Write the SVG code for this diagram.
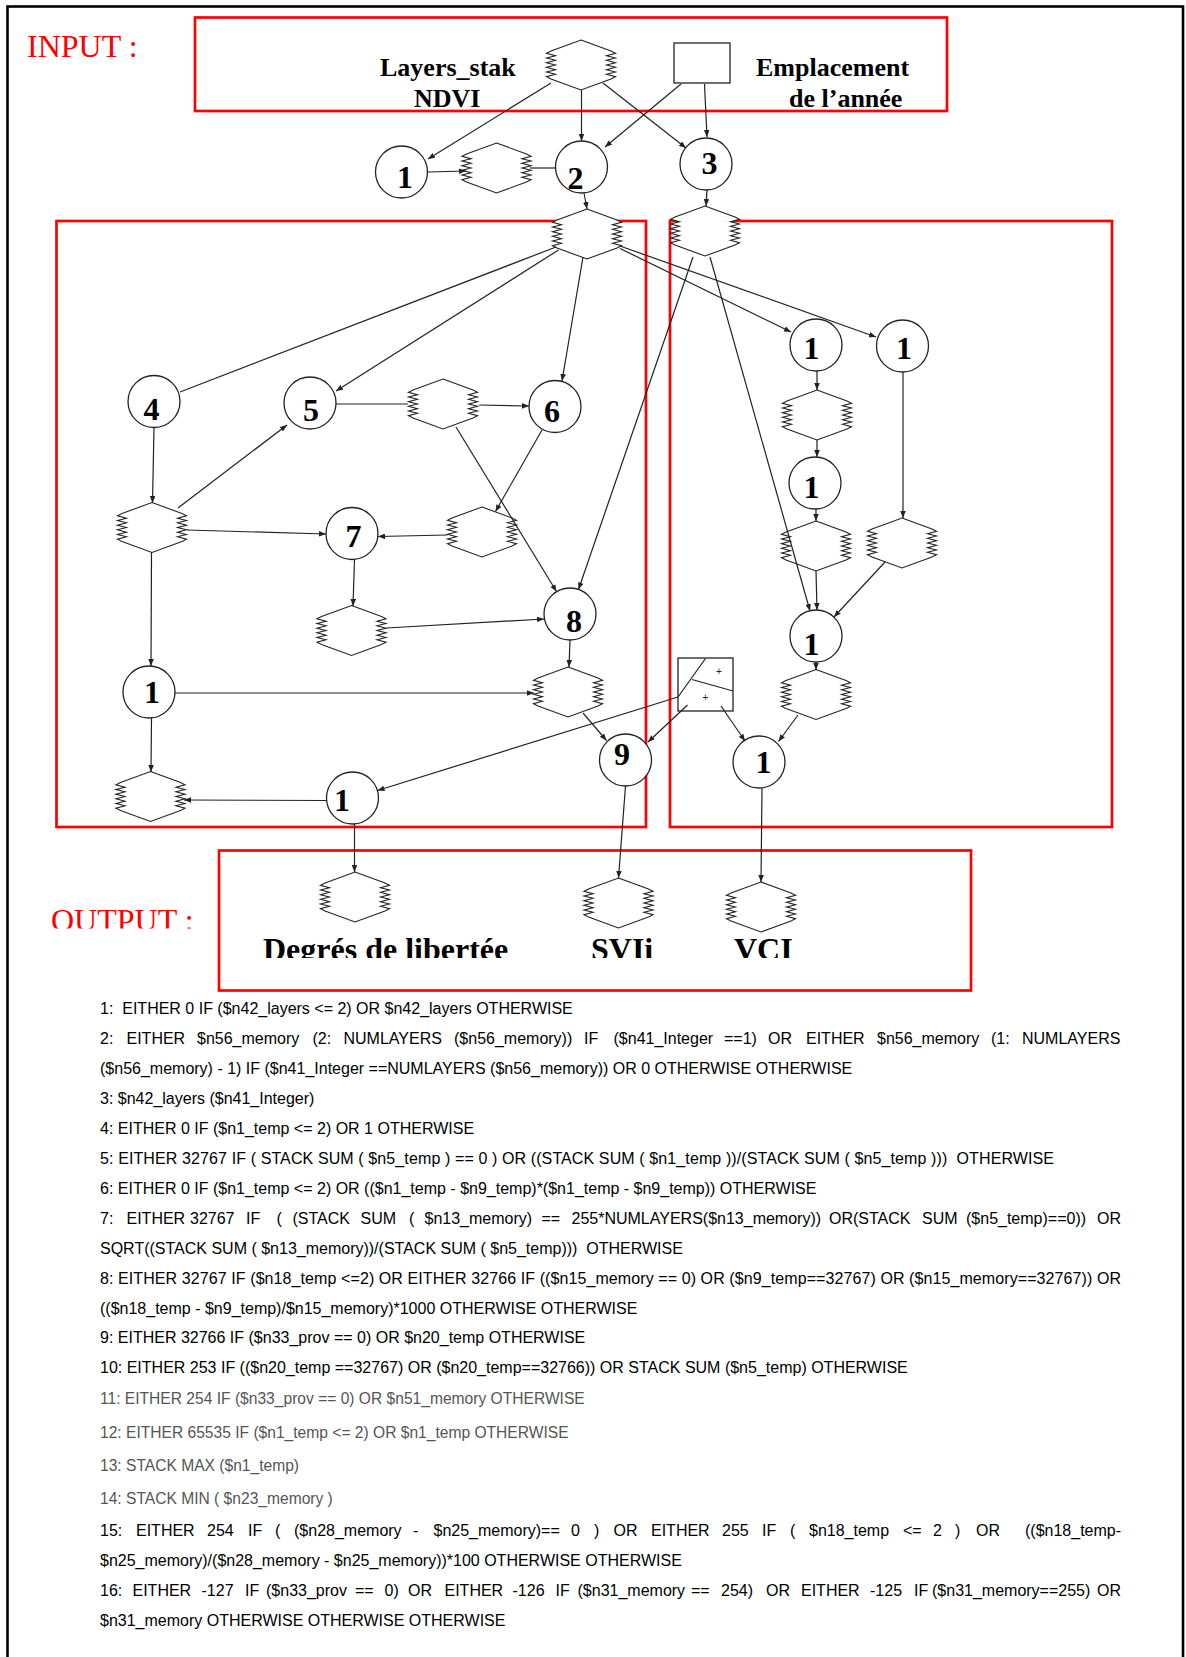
<svg xmlns="http://www.w3.org/2000/svg" xmlns:xlink="http://www.w3.org/1999/xlink" width="1186" height="1657" viewBox="0 0 1186 1657">
<style>
.frame{fill:none;stroke:#000;stroke-width:2.6}
.box{fill:none;stroke:#ff0000;stroke-width:2.7}
.edge{stroke:#222;stroke-width:1.2;fill:none}
.arr{marker-end:url(#arr)}
.hex{fill:#fff;stroke:#222;stroke-width:1.1}
.circ{fill:#fff;stroke:#222;stroke-width:1.3}
.num{font-family:"Liberation Serif","Times New Roman",serif;font-weight:bold;font-size:32px;text-anchor:middle;fill:#000}
.lbl{font-family:"Liberation Serif","Times New Roman",serif;font-weight:bold;font-size:26px;fill:#000}
.out{font-family:"Liberation Serif","Times New Roman",serif;font-weight:bold;font-size:32px;fill:#000}
.red{font-family:"Liberation Serif","Times New Roman",serif;font-size:32px;fill:#ff0000}
.code{font-family:"Liberation Sans",Arial,sans-serif;font-size:16px;fill:#000;white-space:pre}
.gray{fill:#555;font-size:15.6px}
.plus{font-family:"Liberation Sans",Arial,sans-serif;font-size:10px;text-anchor:middle;fill:#222}
</style>
<defs>
<marker id="arr" viewBox="0 0 10 8" refX="10" refY="4" markerWidth="7" markerHeight="5.6" markerUnits="userSpaceOnUse" orient="auto"><path d="M0,0 L10,4 L0,8 Z" fill="#222"/></marker>
<path id="hex" d="M0,-25 L30,-14 L34.5,-11.67 L25.5,-9.33 L34.5,-7 L25.5,-4.67 L34.5,-2.33 L25.5,0 L34.5,2.33 L25.5,4.67 L34.5,7 L25.5,9.33 L34.5,11.67 L30,14 L0,25 L-30,14 L-34.5,11.67 L-25.5,9.33 L-34.5,7 L-25.5,4.67 L-34.5,2.33 L-25.5,0 L-34.5,-2.33 L-25.5,-4.67 L-34.5,-7 L-25.5,-9.33 L-34.5,-11.67 L-30,-14 Z"/>
<clipPath id="clipOut"><rect x="0" y="0" width="1186" height="928.5"/></clipPath>
<clipPath id="clipLbl"><rect x="0" y="0" width="1186" height="958"/></clipPath>
</defs>
<rect width="1186" height="1657" fill="#fff"/>
<rect class="frame" x="7.5" y="6.5" width="1175.5" height="1700"/>

<g id="frames">
<rect class="box" x="195" y="17.5" width="752" height="93.5"/>
<rect class="box" x="56.5" y="221" width="589.5" height="606"/>
<rect class="box" x="670" y="221" width="442" height="606"/>
<rect class="box" x="219" y="850.5" width="752" height="140"/>
<text class="red" x="27" y="57">INPUT :</text>
<text class="red" x="51" y="931" clip-path="url(#clipOut)">OUTPUT :</text>
</g>

<g id="nodes">
<g id="n-layers"><use href="#hex" x="581" y="65" class="hex"/><text class="lbl" x="380" y="76">Layers_stak</text><text class="lbl" x="414" y="107">NDVI</text></g>
<g id="n-emplacement"><rect x="674" y="43" width="56" height="40" fill="#fff" stroke="#222" stroke-width="1.3"/><text class="lbl" x="756" y="76">Emplacement</text><text class="lbl" x="789" y="107">de l’année</text></g>
<g id="n-c1a"><circle class="circ" cx="401.5" cy="172" r="26"/><text class="num" x="405" y="188">1</text></g>
<g id="n-h1"><use href="#hex" x="496.5" y="168" class="hex"/></g>
<g id="n-c2"><circle class="circ" cx="581.5" cy="167" r="26"/><text class="num" x="575.5" y="189">2</text></g>
<g id="n-c3"><circle class="circ" cx="706" cy="164" r="26"/><text class="num" x="709.5" y="174">3</text></g>
<g id="n-h2"><use href="#hex" x="587" y="234" class="hex"/></g>
<g id="n-h3"><use href="#hex" x="705" y="231" class="hex"/></g>
<g id="n-c4"><circle class="circ" cx="154" cy="401.5" r="26"/><text class="num" x="151.5" y="420">4</text></g>
<g id="n-c5"><circle class="circ" cx="310" cy="403" r="26"/><text class="num" x="311" y="421">5</text></g>
<g id="n-h56"><use href="#hex" x="443" y="404" class="hex"/></g>
<g id="n-c6"><circle class="circ" cx="555" cy="406.5" r="26"/><text class="num" x="552" y="422">6</text></g>
<g id="n-h4"><use href="#hex" x="152" y="527.5" class="hex"/></g>
<g id="n-c7"><circle class="circ" cx="352" cy="533.5" r="26"/><text class="num" x="353.5" y="547">7</text></g>
<g id="n-h7r"><use href="#hex" x="482" y="532" class="hex"/></g>
<g id="n-h7b"><use href="#hex" x="351.5" y="630.5" class="hex"/></g>
<g id="n-c8"><circle class="circ" cx="570" cy="614" r="26"/><text class="num" x="574" y="632">8</text></g>
<g id="n-c1c"><circle class="circ" cx="149" cy="692" r="26"/><text class="num" x="152" y="703">1</text></g>
<g id="n-h8b"><use href="#hex" x="568" y="692" class="hex"/></g>
<g id="n-c9"><circle class="circ" cx="625.5" cy="760" r="26"/><text class="num" x="622" y="765">9</text></g>
<g id="n-hbl"><use href="#hex" x="150.5" y="796.5" class="hex"/></g>
<g id="n-c1d"><circle class="circ" cx="352.5" cy="798" r="26"/><text class="num" x="342" y="811">1</text></g>
<g id="n-c1e"><circle class="circ" cx="816" cy="345" r="26"/><text class="num" x="811.5" y="359">1</text></g>
<g id="n-c1f"><circle class="circ" cx="902.5" cy="346" r="26"/><text class="num" x="904" y="359">1</text></g>
<g id="n-hr1"><use href="#hex" x="817" y="415" class="hex"/></g>
<g id="n-c1g"><circle class="circ" cx="815" cy="483" r="26"/><text class="num" x="811.5" y="498">1</text></g>
<g id="n-hr2"><use href="#hex" x="816" y="546" class="hex"/></g>
<g id="n-hr3"><use href="#hex" x="902" y="543" class="hex"/></g>
<g id="n-c1h"><circle class="circ" cx="816" cy="636" r="26"/><text class="num" x="811.5" y="655">1</text></g>
<g id="n-hr4"><use href="#hex" x="816" y="694.5" class="hex"/></g>
<g id="n-sq"><rect x="678" y="658" width="55" height="53" fill="#fff" stroke="#222" stroke-width="1.3"/><path class="edge" d="M678,697 L705.5,658.5 M692,679.5 L733,691"/><text class="plus" x="719" y="675">+</text><text class="plus" x="705.5" y="701">+</text></g>
<g id="n-c1i"><circle class="circ" cx="759" cy="762" r="26"/><text class="num" x="763.5" y="773">1</text></g>
<g id="n-out-deg"><use href="#hex" x="355" y="897" class="hex"/><text class="out" x="263" y="960" clip-path="url(#clipLbl)">Degrés de libertée</text></g>
<g id="n-out-svi"><use href="#hex" x="618.5" y="903" class="hex"/><text class="out" x="591" y="960" clip-path="url(#clipLbl)">SVIi</text></g>
<g id="n-out-vci"><use href="#hex" x="761" y="907" class="hex"/><text class="out" x="734" y="960" clip-path="url(#clipLbl)">VCI</text></g>
</g>

<g id="connectors">
<line class="edge arr" x1="551" y1="83" x2="428" y2="159"/>
<line class="edge arr" x1="581.5" y1="90" x2="581.5" y2="141"/>
<line class="edge arr" x1="603" y1="83" x2="686" y2="148"/>
<line class="edge arr" x1="681" y1="84" x2="605" y2="147"/>
<line class="edge arr" x1="704.5" y1="84" x2="707" y2="137"/>
<line class="edge arr" x1="428" y1="172" x2="466" y2="171"/>
<line class="edge" x1="530" y1="168" x2="555.5" y2="168"/>
<line class="edge arr" x1="584" y1="193" x2="587" y2="209"/>
<line class="edge arr" x1="707" y1="190" x2="706" y2="206"/>
<line class="edge" x1="556" y1="247" x2="180" y2="392"/>
<line class="edge arr" x1="558.5" y1="250" x2="336" y2="391"/>
<line class="edge arr" x1="583" y1="257" x2="562" y2="381"/>
<line class="edge arr" x1="620" y1="248.5" x2="791" y2="332"/>
<line class="edge arr" x1="620" y1="246" x2="876" y2="337"/>
<line class="edge arr" x1="693" y1="257" x2="578.5" y2="589.5"/>
<line class="edge arr" x1="710" y1="257" x2="810" y2="611"/>
<line class="edge" x1="336" y1="404" x2="408" y2="404"/>
<line class="edge arr" x1="479" y1="405" x2="529" y2="406"/>
<line class="edge arr" x1="456" y1="427" x2="556.5" y2="591.5"/>
<line class="edge arr" x1="542" y1="430" x2="495.5" y2="511.5"/>
<line class="edge arr" x1="447.5" y1="535" x2="378" y2="536.5"/>
<line class="edge arr" x1="187" y1="530" x2="326" y2="534"/>
<line class="edge arr" x1="154" y1="427.5" x2="152.5" y2="503"/>
<line class="edge arr" x1="178" y1="508" x2="287" y2="425"/>
<line class="edge arr" x1="354.5" y1="559.5" x2="353" y2="606"/>
<line class="edge arr" x1="386.5" y1="628" x2="544" y2="619"/>
<line class="edge arr" x1="151.5" y1="552" x2="151" y2="666"/>
<line class="edge arr" x1="570" y1="640" x2="569" y2="667"/>
<line class="edge arr" x1="175" y1="693" x2="534" y2="693"/>
<line class="edge arr" x1="583" y1="713" x2="606.5" y2="740.5"/>
<line class="edge arr" x1="151.5" y1="718" x2="151" y2="772"/>
<line class="edge arr" x1="326.5" y1="800.5" x2="184" y2="800"/>
<line class="edge arr" x1="678" y1="697" x2="377.5" y2="790.5"/>
<line class="edge arr" x1="687.5" y1="705" x2="648" y2="742"/>
<line class="edge arr" x1="721" y1="706" x2="745" y2="741"/>
<line class="edge arr" x1="798" y1="715" x2="778.5" y2="741.5"/>
<line class="edge arr" x1="816" y1="662" x2="816" y2="670"/>
<line class="edge arr" x1="625.5" y1="786" x2="618.5" y2="878"/>
<line class="edge arr" x1="762" y1="788" x2="761" y2="882"/>
<line class="edge arr" x1="354.5" y1="824" x2="354.5" y2="872"/>
<line class="edge arr" x1="817" y1="371" x2="817" y2="390"/>
<line class="edge arr" x1="817" y1="440" x2="817" y2="457"/>
<line class="edge arr" x1="816" y1="509" x2="816" y2="521"/>
<line class="edge arr" x1="816" y1="571" x2="817" y2="610"/>
<line class="edge arr" x1="903" y1="372" x2="903" y2="518"/>
<line class="edge arr" x1="885" y1="562" x2="834" y2="617"/>
</g>

<g id="legend">
<text class="code" x="100" y="1014">1:  EITHER 0 IF ($n42_layers &lt;= 2) OR $n42_layers OTHERWISE</text>
<text class="code" y="1044"><tspan x="100">2:</tspan><tspan x="126.5">EITHER</tspan><tspan x="197">$n56_memory</tspan><tspan x="312.5">(2:</tspan><tspan x="343.5">NUMLAYERS</tspan><tspan x="454">($n56_memory))</tspan><tspan x="584">IF</tspan><tspan x="613.5">($n41_Integer</tspan><tspan x="724">==1)</tspan><tspan x="768">OR</tspan><tspan x="806">EITHER</tspan><tspan x="877">$n56_memory</tspan><tspan x="991">(1:</tspan><tspan x="1022">NUMLAYERS</tspan></text>
<text class="code" x="100" y="1074">($n56_memory) - 1) IF ($n41_Integer ==NUMLAYERS ($n56_memory)) OR 0 OTHERWISE OTHERWISE</text>
<text class="code" x="100" y="1104">3: $n42_layers ($n41_Integer)</text>
<text class="code" x="100" y="1134">4: EITHER 0 IF ($n1_temp &lt;= 2) OR 1 OTHERWISE</text>
<text class="code" x="100" y="1164" textLength="954" lengthAdjust="spacing">5: EITHER 32767 IF ( STACK SUM ( $n5_temp ) == 0 ) OR ((STACK SUM ( $n1_temp ))/(STACK SUM ( $n5_temp )))  OTHERWISE</text>
<text class="code" x="100" y="1194">6: EITHER 0 IF ($n1_temp &lt;= 2) OR (($n1_temp - $n9_temp)*($n1_temp - $n9_temp)) OTHERWISE</text>
<text class="code" y="1224"><tspan x="100">7:</tspan><tspan x="126.5">EITHER</tspan><tspan x="190">32767</tspan><tspan x="246">IF</tspan><tspan x="276.5">(</tspan><tspan x="292.5">(STACK</tspan><tspan x="360.5">SUM</tspan><tspan x="409">(</tspan><tspan x="424.5">$n13_memory)</tspan><tspan x="541.5">==</tspan><tspan x="571.5">255*NUMLAYERS($n13_memory))</tspan><tspan x="829">OR(STACK</tspan><tspan x="922">SUM</tspan><tspan x="966">($n5_temp)==0))</tspan><tspan x="1097">OR</tspan></text>
<text class="code" x="100" y="1254">SQRT((STACK SUM ( $n13_memory))/(STACK SUM ( $n5_temp)))  OTHERWISE</text>
<text class="code" x="100" y="1284" textLength="1021" lengthAdjust="spacing">8: EITHER 32767 IF ($n18_temp &lt;=2) OR EITHER 32766 IF (($n15_memory == 0) OR ($n9_temp==32767) OR ($n15_memory==32767)) OR</text>
<text class="code" x="100" y="1314">(($n18_temp - $n9_temp)/$n15_memory)*1000 OTHERWISE OTHERWISE</text>
<text class="code" x="100" y="1343">9: EITHER 32766 IF ($n33_prov == 0) OR $n20_temp OTHERWISE</text>
<text class="code" x="100" y="1373">10: EITHER 253 IF (($n20_temp ==32767) OR ($n20_temp==32766)) OR STACK SUM ($n5_temp) OTHERWISE</text>
<text class="code gray" x="100" y="1404">11: EITHER 254 IF ($n33_prov == 0) OR $n51_memory OTHERWISE</text>
<text class="code gray" x="100" y="1438">12: EITHER 65535 IF ($n1_temp &lt;= 2) OR $n1_temp OTHERWISE</text>
<text class="code gray" x="100" y="1471">13: STACK MAX ($n1_temp)</text>
<text class="code gray" x="100" y="1504">14: STACK MIN ( $n23_memory )</text>
<text class="code" y="1536"><tspan x="100">15:</tspan><tspan x="136">EITHER</tspan><tspan x="207">254</tspan><tspan x="248">IF</tspan><tspan x="275">(</tspan><tspan x="294">($n28_memory</tspan><tspan x="413">-</tspan><tspan x="433.5">$n25_memory)==</tspan><tspan x="571">0</tspan><tspan x="594">)</tspan><tspan x="613.5">OR</tspan><tspan x="651">EITHER</tspan><tspan x="722">255</tspan><tspan x="762">IF</tspan><tspan x="790">(</tspan><tspan x="809">$n18_temp</tspan><tspan x="903">&lt;=</tspan><tspan x="933">2</tspan><tspan x="955">)</tspan><tspan x="976">OR</tspan><tspan x="1025">(($n18_temp-</tspan></text>
<text class="code" x="100" y="1566">$n25_memory)/($n28_memory - $n25_memory))*100 OTHERWISE OTHERWISE</text>
<text class="code" y="1596"><tspan x="100">16:</tspan><tspan x="132.5">EITHER</tspan><tspan x="201.5">-127</tspan><tspan x="245">IF</tspan><tspan x="266">($n33_prov</tspan><tspan x="355">==</tspan><tspan x="384.5">0)</tspan><tspan x="408">OR</tspan><tspan x="444.5">EITHER</tspan><tspan x="512.5">-126</tspan><tspan x="555.5">IF</tspan><tspan x="577.5">($n31_memory</tspan><tspan x="691">==</tspan><tspan x="721">254)</tspan><tspan x="766">OR</tspan><tspan x="801">EITHER</tspan><tspan x="870">-125</tspan><tspan x="914">IF</tspan><tspan x="932">($n31_memory==255)</tspan><tspan x="1097">OR</tspan></text>
<text class="code" x="100" y="1626">$n31_memory OTHERWISE OTHERWISE OTHERWISE</text>
</g>
</svg>
